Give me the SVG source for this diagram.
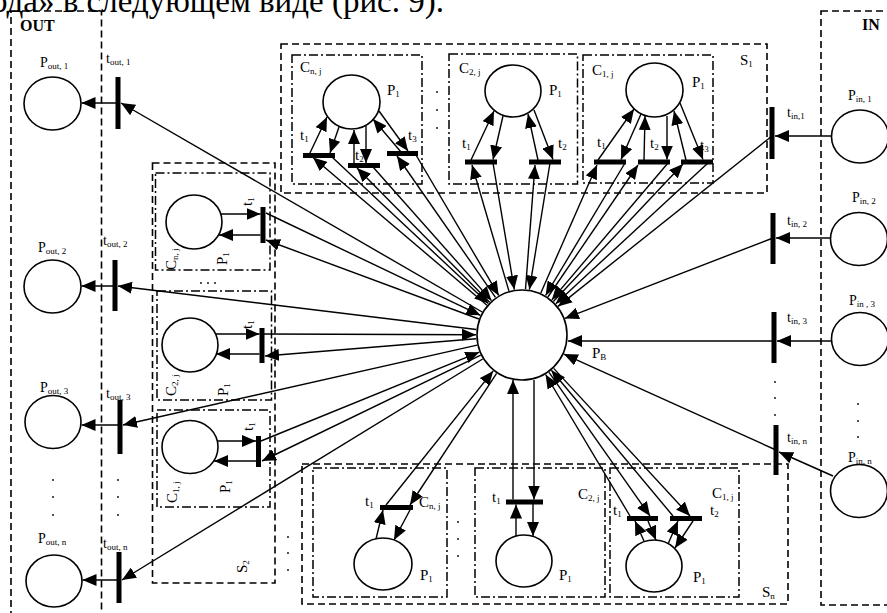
<svg xmlns="http://www.w3.org/2000/svg" width="887" height="613" viewBox="0 0 887 613">
<style>
  text { font-family: "Liberation Serif", "Times New Roman", serif; fill: #000; }
  .lb { font-size: 14px; }
  .lc { font-size: 15px; }
  .sub { font-size: 9px; }
  .hd { font-size: 16px; font-weight: bold; }
  .box { fill: none; stroke: #000; stroke-width: 1.6; stroke-dasharray: 7 4; }
  .cbox { fill: none; stroke: #000; stroke-width: 1.5; stroke-dasharray: 9 3 2 3; }
  .place { fill: #fff; stroke: #000; stroke-width: 1.6; }
  .bar { fill: #000; }
  .arc { stroke: #000; stroke-width: 1.4; fill: none; marker-end: url(#ah); }
  .dot { fill: #000; }
</style>
<defs>
  <marker id="ah" markerWidth="14" markerHeight="12" refX="14" refY="6" orient="auto" markerUnits="userSpaceOnUse">
    <path d="M0,0 L14,6 L0,12 z" fill="#000"/>
  </marker>
</defs>
<rect width="887" height="613" fill="#fff"/>

<!-- running text line, clipped by the page edge -->
<text x="-9" y="12" font-size="33">ода» в следующем виде (рис. 9).</text>

<!-- output block -->
<g id="OUT">
  <rect class="box" x="11" y="11" width="90.5" height="620"/>
  <text class="hd" x="20" y="31">OUT</text>
</g>
<g id="P_out_1"><ellipse class="place" cx="52.5" cy="103.5" rx="28.5" ry="26.5"/><text class="lb" x="40" y="67">P<tspan class="sub" dy="2">out, 1</tspan></text></g>
<g id="P_out_2"><ellipse class="place" cx="52.5" cy="286.5" rx="28.5" ry="26.5"/><text class="lb" x="38" y="252">P<tspan class="sub" dy="2">out, 2</tspan></text></g>
<g id="P_out_3"><ellipse class="place" cx="53" cy="422" rx="28" ry="26.5"/><text class="lb" x="40" y="392">P<tspan class="sub" dy="2">out, 3</tspan></text></g>
<g id="P_out_n"><ellipse class="place" cx="54" cy="581" rx="28" ry="26"/><text class="lb" x="38" y="543">P<tspan class="sub" dy="2">out, n</tspan></text></g>
<g id="t_out_1"><rect class="bar" x="115.5" y="77" width="5" height="52"/><text class="lb" x="106" y="63">t<tspan class="sub" dy="2">out, 1</tspan></text></g>
<g id="t_out_2"><rect class="bar" x="112.5" y="260" width="5" height="51"/><text class="lb" x="103" y="245">t<tspan class="sub" dy="2">out, 2</tspan></text></g>
<g id="t_out_3"><rect class="bar" x="117.5" y="400" width="5" height="54"/><text class="lb" x="106" y="398">t<tspan class="sub" dy="2">out, 3</tspan></text></g>
<g id="t_out_n"><rect class="bar" x="116.5" y="552" width="5" height="51"/><text class="lb" x="103" y="548">t<tspan class="sub" dy="2">out, n</tspan></text></g>
<g id="out_dots">
  <circle class="dot" cx="53" cy="480" r="0.9"/><circle class="dot" cx="53" cy="497" r="0.9"/><circle class="dot" cx="53" cy="515" r="0.9"/>
  <circle class="dot" cx="118" cy="480" r="0.9"/><circle class="dot" cx="118" cy="497" r="0.9"/><circle class="dot" cx="118" cy="515" r="0.9"/>
</g>

<!-- input block -->
<g id="IN">
  <rect class="box" x="821" y="11" width="90" height="594"/>
  <text class="hd" x="862" y="30">IN</text>
</g>
<g id="P_in_1"><ellipse class="place" cx="860" cy="136.5" rx="28.5" ry="26.5"/><text class="lb" x="848" y="100">P<tspan class="sub" dy="2">in, 1</tspan></text></g>
<g id="P_in_2"><ellipse class="place" cx="859" cy="239" rx="28.5" ry="26.5"/><text class="lb" x="852" y="202">P<tspan class="sub" dy="2">in, 2</tspan></text></g>
<g id="P_in_3"><ellipse class="place" cx="860" cy="339" rx="28.5" ry="26.5"/><text class="lb" x="849" y="305">P<tspan class="sub" dy="2">in , 3</tspan></text></g>
<g id="P_in_n"><ellipse class="place" cx="859" cy="491" rx="28.5" ry="26.5"/><text class="lb" x="848" y="462">P<tspan class="sub" dy="2">in, n</tspan></text></g>
<g id="t_in_1"><rect class="bar" x="769.5" y="107" width="5" height="52"/><text class="lb" x="787" y="117">t<tspan class="sub" dy="2">in,1</tspan></text></g>
<g id="t_in_2"><rect class="bar" x="770.5" y="213" width="5" height="51"/><text class="lb" x="787" y="225">t<tspan class="sub" dy="2">in, 2</tspan></text></g>
<g id="t_in_3"><rect class="bar" x="771.5" y="312" width="5" height="51"/><text class="lb" x="787" y="322">t<tspan class="sub" dy="2">in, 3</tspan></text></g>
<g id="t_in_n"><rect class="bar" x="773.5" y="425" width="5" height="50"/><text class="lb" x="787" y="442">t<tspan class="sub" dy="2">in, n</tspan></text></g>
<g id="in_dots">
  <circle class="dot" cx="775" cy="382" r="0.9"/><circle class="dot" cx="775" cy="398" r="0.9"/><circle class="dot" cx="775" cy="415" r="0.9"/>
  <circle class="dot" cx="858" cy="404" r="0.9"/><circle class="dot" cx="858" cy="421" r="0.9"/><circle class="dot" cx="858" cy="437" r="0.9"/>
</g>

<!-- central buffer place -->
<g id="P_B">
  <circle class="place" cx="522" cy="335" r="45"/>
  <text class="lc" x="592" y="358">P<tspan class="sub" dy="2">B</tspan></text>
</g>

<!-- subsystem S1 (top) -->
<g id="S1">
  <rect class="box" x="281" y="44" width="486" height="149"/>
  <text class="lc" x="740" y="65">S<tspan class="sub" dy="2">1</tspan></text>
  <circle class="dot" cx="437" cy="92" r="0.9"/><circle class="dot" cx="437" cy="110" r="0.9"/><circle class="dot" cx="437" cy="128" r="0.9"/>
</g>
<g id="S1_Cnj">
  <rect class="cbox" x="292" y="55" width="130" height="129"/>
  <text class="lc" x="300" y="72">C<tspan class="sub" dy="2">n, j</tspan></text>
  <ellipse class="place" cx="351.5" cy="102" rx="28.5" ry="27"/>
  <text class="lc" x="387" y="95">P<tspan class="sub" dy="2">1</tspan></text>
  <rect class="bar" x="303" y="153" width="32" height="5"/>
  <rect class="bar" x="348" y="163" width="32" height="5"/>
  <rect class="bar" x="387" y="151" width="31" height="5"/>
  <text class="lc" x="300" y="140">t<tspan class="sub" dy="2">1</tspan></text>
  <text class="lc" x="355" y="160">t<tspan class="sub" dy="2">2</tspan></text>
  <text class="lc" x="408" y="140">t<tspan class="sub" dy="2">3</tspan></text>
</g>
<g id="S1_C2j">
  <rect class="cbox" x="449" y="54" width="128.5" height="130"/>
  <text class="lc" x="459" y="73">C<tspan class="sub" dy="2">2, j</tspan></text>
  <ellipse class="place" cx="513" cy="91" rx="28" ry="26"/>
  <text class="lc" x="549" y="95">P<tspan class="sub" dy="2">1</tspan></text>
  <rect class="bar" x="465" y="159.5" width="32" height="5"/>
  <rect class="bar" x="529" y="159.5" width="32" height="5"/>
  <text class="lc" x="462" y="148">t<tspan class="sub" dy="2">1</tspan></text>
  <text class="lc" x="558" y="148">t<tspan class="sub" dy="2">2</tspan></text>
</g>
<g id="S1_C1j">
  <rect class="cbox" x="583" y="55" width="130" height="128"/>
  <text class="lc" x="592" y="75">C<tspan class="sub" dy="2">1, j</tspan></text>
  <ellipse class="place" cx="654.5" cy="90" rx="28.5" ry="27"/>
  <text class="lc" x="692" y="87">P<tspan class="sub" dy="2">1</tspan></text>
  <rect class="bar" x="594" y="159.5" width="32" height="5"/>
  <rect class="bar" x="638" y="159.5" width="32" height="5"/>
  <rect class="bar" x="681" y="159.5" width="32" height="5"/>
  <text class="lc" x="597" y="147">t<tspan class="sub" dy="2">1</tspan></text>
  <text class="lc" x="650" y="148">t<tspan class="sub" dy="2">2</tspan></text>
  <text class="lc" x="700" y="150">t<tspan class="sub" dy="2">3</tspan></text>
</g>

<!-- subsystem S2 (left, drawn sideways) -->
<g id="S2">
  <rect class="box" x="152.5" y="163" width="122.5" height="420"/>
  <text class="lc" transform="translate(247,573) rotate(-90)">S<tspan class="sub" dy="2">2</tspan></text>
  <circle class="dot" cx="201" cy="283" r="0.9"/><circle class="dot" cx="208" cy="283" r="0.9"/><circle class="dot" cx="215" cy="283" r="0.9"/>
  <circle class="dot" cx="288" cy="537" r="0.9"/><circle class="dot" cx="288" cy="553" r="0.9"/><circle class="dot" cx="288" cy="570" r="0.9"/>
</g>
<g id="S2_Cnj">
  <rect class="cbox" x="155.5" y="173" width="114.5" height="97"/>
  <ellipse class="place" cx="194" cy="222" rx="28" ry="27"/>
  <rect class="bar" x="260.5" y="207" width="5" height="36"/>
  <text class="lc" transform="translate(176,270) rotate(-90)">C<tspan class="sub" dy="2">n, j</tspan></text>
  <text class="lc" transform="translate(227,265) rotate(-90)">P<tspan class="sub" dy="2">1</tspan></text>
  <text class="lc" transform="translate(252,206) rotate(-90)">t<tspan class="sub" dy="2">1</tspan></text>
</g>
<g id="S2_C2j">
  <rect class="cbox" x="157" y="291" width="114.5" height="109"/>
  <ellipse class="place" cx="190" cy="345" rx="28" ry="27"/>
  <rect class="bar" x="259.5" y="328" width="5" height="35"/>
  <text class="lc" transform="translate(176,396) rotate(-90)">C<tspan class="sub" dy="2">2, j</tspan></text>
  <text class="lc" transform="translate(228,396) rotate(-90)">P<tspan class="sub" dy="2">1</tspan></text>
  <text class="lc" transform="translate(252,329) rotate(-90)">t<tspan class="sub" dy="2">1</tspan></text>
</g>
<g id="S2_C1j">
  <rect class="cbox" x="157" y="410" width="113" height="97"/>
  <ellipse class="place" cx="190" cy="447" rx="28" ry="26.5"/>
  <rect class="bar" x="256" y="436" width="5" height="31"/>
  <text class="lc" transform="translate(177,503) rotate(-90)">C<tspan class="sub" dy="2">1, j</tspan></text>
  <text class="lc" transform="translate(230,493) rotate(-90)">P<tspan class="sub" dy="2">1</tspan></text>
  <text class="lc" transform="translate(253,431) rotate(-90)">t<tspan class="sub" dy="2">1</tspan></text>
</g>

<!-- subsystem Sn (bottom) -->
<g id="Sn">
  <rect class="box" x="302" y="464" width="486" height="140"/>
  <text class="lc" x="762" y="597">S<tspan class="sub" dy="2">n</tspan></text>
  <circle class="dot" cx="458" cy="522" r="0.9"/><circle class="dot" cx="458" cy="539" r="0.9"/><circle class="dot" cx="458" cy="556" r="0.9"/>
</g>
<g id="Sn_Cnj">
  <rect class="cbox" x="313" y="468" width="134" height="129"/>
  <text class="lc" x="419" y="507">C<tspan class="sub" dy="2">n, j</tspan></text>
  <ellipse class="place" cx="383" cy="564" rx="29" ry="26"/>
  <text class="lc" x="420" y="580">P<tspan class="sub" dy="2">1</tspan></text>
  <rect class="bar" x="380" y="505" width="33" height="5"/>
  <text class="lc" x="365" y="506">t<tspan class="sub" dy="2">1</tspan></text>
</g>
<g id="Sn_C2j">
  <rect class="cbox" x="475" y="468" width="130" height="129"/>
  <text class="lc" x="578" y="499">C<tspan class="sub" dy="2">2, j</tspan></text>
  <ellipse class="place" cx="524" cy="561" rx="28" ry="26"/>
  <text class="lc" x="559" y="580">P<tspan class="sub" dy="2">1</tspan></text>
  <rect class="bar" x="506" y="499.5" width="37" height="5"/>
  <text class="lc" x="492" y="502">t<tspan class="sub" dy="2">1</tspan></text>
</g>
<g id="Sn_C1j">
  <rect class="cbox" x="610" y="468" width="129" height="129"/>
  <text class="lc" x="712" y="498">C<tspan class="sub" dy="2">1, j</tspan></text>
  <ellipse class="place" cx="654" cy="566" rx="28" ry="26"/>
  <text class="lc" x="693" y="582">P<tspan class="sub" dy="2">1</tspan></text>
  <rect class="bar" x="627" y="516" width="31" height="5"/>
  <rect class="bar" x="670" y="516" width="32" height="5"/>
  <text class="lc" x="613" y="515">t<tspan class="sub" dy="2">1</tspan></text>
  <text class="lc" x="710" y="515">t<tspan class="sub" dy="2">2</tspan></text>
</g>

<!-- arcs -->
<g id="connectors">
  <!-- output transitions -->
  <line class="arc" x1="118" y1="103" x2="81.5" y2="103"/>
  <line class="arc" x1="115" y1="286" x2="81.5" y2="286"/>
  <line class="arc" x1="120" y1="425" x2="81.5" y2="425"/>
  <line class="arc" x1="119" y1="580" x2="82.5" y2="580"/>
  <line class="arc" x1="482.2" y1="312" x2="121" y2="103"/>
  <line class="arc" x1="476.3" y1="329.5" x2="118" y2="286"/>
  <line class="arc" x1="477.1" y1="345.1" x2="123" y2="425"/>
  <line class="arc" x1="482.7" y1="359" x2="122" y2="580"/>

  <!-- S2 -->
  <line class="arc" x1="221" y1="214" x2="260.5" y2="214"/>
  <line class="arc" x1="260.5" y1="235" x2="219" y2="235"/>
  <line class="arc" x1="266" y1="213" x2="480.4" y2="315.3"/>
  <line class="arc" x1="478.9" y1="319" x2="266" y2="240"/>
  <line class="arc" x1="216" y1="334" x2="259.5" y2="334"/>
  <line class="arc" x1="259.5" y1="354" x2="216" y2="354"/>
  <line class="arc" x1="264" y1="334" x2="476" y2="334.8"/>
  <line class="arc" x1="476.2" y1="338.8" x2="265" y2="356"/>
  <line class="arc" x1="217" y1="441" x2="256" y2="441"/>
  <line class="arc" x1="256" y1="461" x2="214" y2="461"/>
  <line class="arc" x1="261" y1="441" x2="479.3" y2="352.2"/>
  <line class="arc" x1="480.7" y1="355.2" x2="262" y2="461"/>

  <!-- S1, C n,j -->
  <line class="arc" x1="309" y1="155" x2="327" y2="117"/>
  <line class="arc" x1="339" y1="127" x2="330" y2="153"/>
  <line class="arc" x1="354" y1="163" x2="354" y2="130"/>
  <line class="arc" x1="366" y1="126" x2="366" y2="163"/>
  <line class="arc" x1="401" y1="152" x2="373" y2="119"/>
  <line class="arc" x1="379" y1="111" x2="408" y2="151"/>
  <line class="arc" x1="487" y1="305.2" x2="313" y2="157.5"/>
  <line class="arc" x1="332" y1="157" x2="488.4" y2="303.6"/>
  <line class="arc" x1="489.7" y1="302.3" x2="357" y2="168"/>
  <line class="arc" x1="373" y1="167" x2="491.5" y2="300.6"/>
  <line class="arc" x1="495.5" y1="297.4" x2="397" y2="156"/>
  <line class="arc" x1="416" y1="155" x2="498.7" y2="295.4"/>

  <!-- S1, C 2,j -->
  <line class="arc" x1="471" y1="160" x2="494" y2="111"/>
  <line class="arc" x1="503" y1="116" x2="493" y2="159.5"/>
  <line class="arc" x1="538" y1="160" x2="528" y2="114"/>
  <line class="arc" x1="534" y1="110" x2="553" y2="159.5"/>
  <line class="arc" x1="508.9" y1="290.9" x2="472" y2="165"/>
  <line class="arc" x1="493" y1="163" x2="514.3" y2="289.6"/>
  <line class="arc" x1="525.5" y1="289.1" x2="535" y2="165"/>
  <line class="arc" x1="550" y1="163" x2="529.4" y2="289.6"/>

  <!-- S1, C 1,j -->
  <line class="arc" x1="598" y1="160" x2="634" y2="109"/>
  <line class="arc" x1="641" y1="114" x2="621" y2="159.5"/>
  <line class="arc" x1="644" y1="160" x2="645" y2="116"/>
  <line class="arc" x1="667" y1="116" x2="667" y2="159.5"/>
  <line class="arc" x1="686" y1="160" x2="674" y2="111"/>
  <line class="arc" x1="680" y1="103" x2="703" y2="159.5"/>
  <line class="arc" x1="540.8" y1="293" x2="597" y2="165"/>
  <line class="arc" x1="625" y1="163" x2="545.6" y2="295.5"/>
  <line class="arc" x1="547.9" y1="297" x2="638" y2="165"/>
  <line class="arc" x1="668" y1="163" x2="551.8" y2="299.9"/>
  <line class="arc" x1="553.4" y1="301.4" x2="683" y2="164"/>
  <line class="arc" x1="708" y1="163" x2="555.8" y2="303.7"/>

  <!-- input transitions -->
  <line class="arc" x1="831.5" y1="136" x2="775" y2="136"/>
  <line class="arc" x1="830.5" y1="238" x2="776" y2="238"/>
  <line class="arc" x1="831.5" y1="341" x2="777" y2="341"/>
  <line class="arc" x1="833" y1="476" x2="779" y2="452"/>
  <line class="arc" x1="772" y1="136" x2="558" y2="306.4"/>
  <line class="arc" x1="773" y1="238" x2="564.9" y2="318.4"/>
  <line class="arc" x1="774" y1="341" x2="568" y2="341"/>
  <line class="arc" x1="776" y1="450" x2="563.8" y2="354.1"/>

  <!-- Sn, C n,j -->
  <line class="arc" x1="376" y1="539" x2="383" y2="510"/>
  <line class="arc" x1="410" y1="510" x2="394" y2="540"/>
  <line class="arc" x1="386" y1="505" x2="493.2" y2="370.9"/>
  <line class="arc" x1="496.6" y1="373.4" x2="410" y2="505"/>

  <!-- Sn, C 2,j -->
  <line class="arc" x1="516" y1="536" x2="516" y2="504.5"/>
  <line class="arc" x1="533" y1="504" x2="533" y2="536"/>
  <line class="arc" x1="513" y1="499.5" x2="513" y2="380"/>
  <line class="arc" x1="534" y1="380" x2="534" y2="499.5"/>

  <!-- Sn, C 1,j -->
  <line class="arc" x1="644" y1="541" x2="635" y2="521"/>
  <line class="arc" x1="648" y1="521" x2="656" y2="540"/>
  <line class="arc" x1="668" y1="544" x2="678" y2="521"/>
  <line class="arc" x1="693" y1="521" x2="675" y2="548"/>
  <line class="arc" x1="630" y1="516" x2="545.6" y2="374.5"/>
  <line class="arc" x1="549" y1="372.3" x2="650" y2="516"/>
  <line class="arc" x1="673" y1="516" x2="551.4" y2="370.3"/>
  <line class="arc" x1="553.7" y1="368.4" x2="690" y2="516"/>
</g>
</svg>
